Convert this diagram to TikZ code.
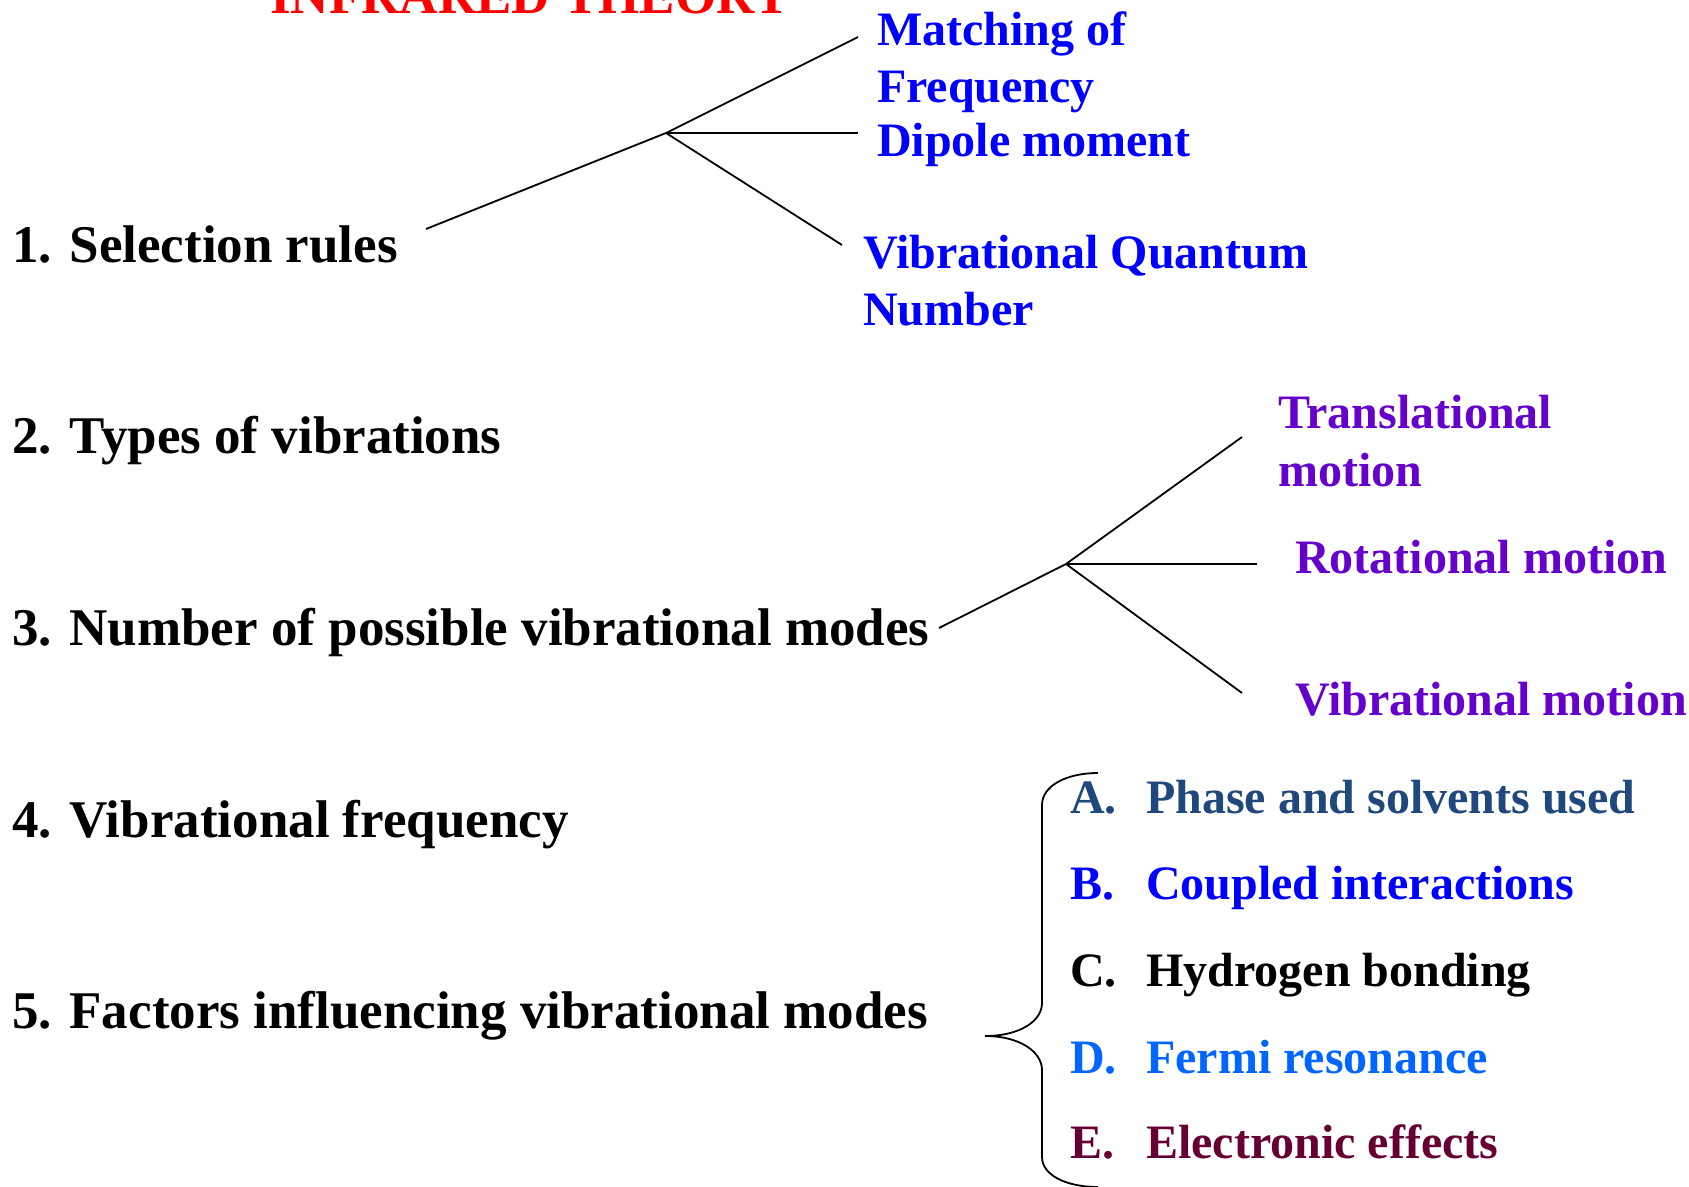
\documentclass[tikz,border=0pt]{standalone}
\usepackage{fontspec}
\setmainfont{Liberation Serif}
\definecolor{titlered}{HTML}{FF0000}
\definecolor{selblue}{HTML}{0000FF}
\definecolor{motpurple}{HTML}{6600CC}
\definecolor{phaseblue}{HTML}{1F497D}
\definecolor{fermiblue}{HTML}{0066FF}
\definecolor{elecmaroon}{HTML}{660033}
\tikzset{
  mainlbl/.style={anchor=base west, inner sep=0pt, font=\fontsize{53}{60}\selectfont\bfseries},
  sublbl/.style={anchor=base west, inner sep=0pt, font=\fontsize{48}{56}\selectfont\bfseries},
  conn/.style={line width=1.8pt, black},
  bracestyle/.style={line width=1.8pt, black}
}
\begin{document}
\begin{tikzpicture}[x=1pt,y=-1pt]
\useasboundingbox (0,0) rectangle (1689,1186);
\fill[white] (0,0) rectangle (1689,1186);
\clip (0,0) rectangle (1689,1186);

% title
\node[mainlbl, text=titlered] (title) at (270,13) {INFRARED THEORY};

% main items
\node[mainlbl] (sel)  at (12,262)  {1. Selection rules};
\node[mainlbl] (typ)  at (12,453)  {2. Types of vibrations};
\node[mainlbl] (num)  at (12,645)  {3. Number of possible vibrational modes};
\node[mainlbl] (freq) at (12,837)  {4. Vibrational frequency};
\node[mainlbl] (fac)  at (12,1028) {5. Factors influencing vibrational modes};

% selection rules branches
\node[sublbl, text=selblue] (match1) at (877,45)  {Matching of};
\node[sublbl, text=selblue] (match2) at (877,102) {Frequency};
\node[sublbl, text=selblue] (dip)    at (877,156) {Dipole moment};
\node[sublbl, text=selblue] (vq1)    at (863,268) {Vibrational Quantum};
\node[sublbl, text=selblue] (vq2)    at (863,325) {Number};

\coordinate (s0) at (426,229);
\coordinate (j1) at (666,133);
\coordinate (e1a) at (858,37);
\coordinate (e1b) at (858,133);
\coordinate (e1c) at (842,245);
\draw[conn] (s0) -- (j1);
\draw[conn] (j1) -- (e1a);
\draw[conn] (j1) -- (e1b);
\draw[conn] (j1) -- (e1c);

% vibrational modes branches
\node[sublbl, text=motpurple] (tr1) at (1278,428) {Translational};
\node[sublbl, text=motpurple] (tr2) at (1278,486) {motion};
\node[sublbl, text=motpurple] (rot) at (1295,573) {Rotational motion};
\node[sublbl, text=motpurple] (vib) at (1295,715) {Vibrational motion};

\coordinate (n0) at (939,628);
\coordinate (j2) at (1066,564);
\coordinate (e2a) at (1242,437);
\coordinate (e2b) at (1257,564);
\coordinate (e2c) at (1242,693);
\draw[conn] (n0) -- (j2);
\draw[conn] (j2) -- (e2a);
\draw[conn] (j2) -- (e2b);
\draw[conn] (j2) -- (e2c);

% brace
\coordinate (btop) at (1098,773);
\coordinate (btip) at (985,1036);
\coordinate (bbot) at (1098,1187);
\draw[bracestyle] (btop) .. controls (1066,773) and (1042,786) .. (1042,805)
  -- (1042,1003) .. controls (1042,1021) and (1020,1036) .. (btip)
  .. controls (1020,1036) and (1042,1052) .. (1042,1070)
  -- (1042,1157) .. controls (1042,1175) and (1066,1187) .. (bbot);

% factors
\node[sublbl, text=phaseblue]  (la) at (1070,813)  {A.};
\node[sublbl, text=phaseblue]  (ta) at (1146,813)  {Phase and solvents used};
\node[sublbl, text=selblue]    (lb) at (1070,899)  {B.};
\node[sublbl, text=selblue]    (tb) at (1146,899)  {Coupled interactions};
\node[sublbl, text=black]      (lc) at (1070,986)  {C.};
\node[sublbl, text=black]      (tc) at (1146,986)  {Hydrogen bonding};
\node[sublbl, text=fermiblue]  (ld) at (1070,1073) {D.};
\node[sublbl, text=fermiblue]  (td) at (1146,1073) {Fermi resonance};
\node[sublbl, text=elecmaroon] (le) at (1070,1158) {E.};
\node[sublbl, text=elecmaroon] (te) at (1146,1158) {Electronic effects};
\end{tikzpicture}
\end{document}
